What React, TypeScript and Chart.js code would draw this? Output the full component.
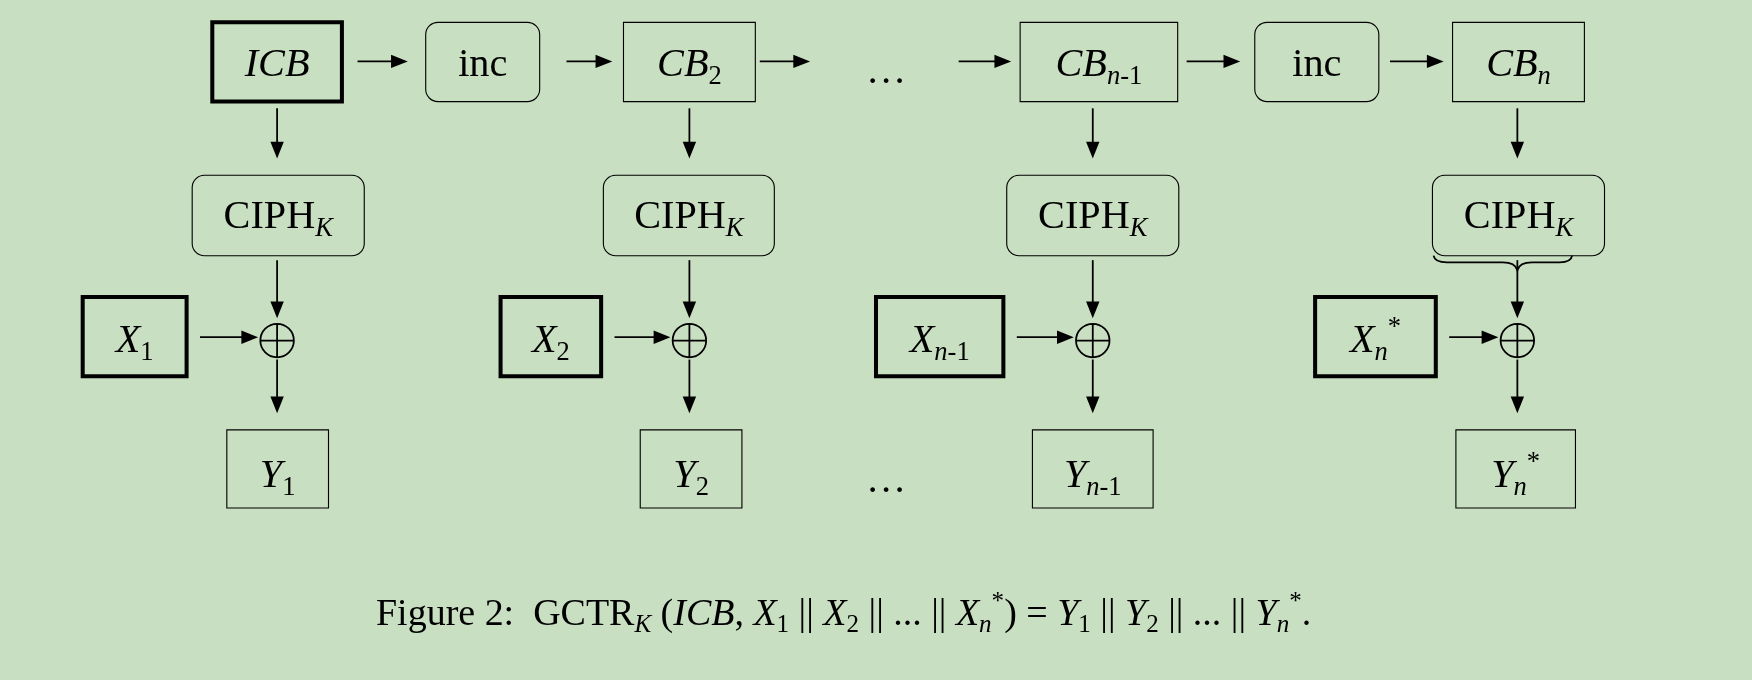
import { useEffect, useRef } from 'react';
import { Chart } from 'chart.js/auto';

type Seg = [string, string]; // text, flags: i=italic b=sub p=sup

// labels
const topLabels: Seg[][] = [
  [['ICB', 'i']],
  [['inc', '']],
  [['CB', 'i'], ['2', 'b']],
  [['CB', 'i'], ['n', 'ib'], ['-1', 'b']],
  [['inc', '']],
  [['CB', 'i'], ['n', 'ib']],
];
const cipherLabel: Seg[] = [['CIPH', ''], ['K', 'ib']];
const xLabels: Seg[][] = [
  [['X', 'i'], ['1', 'b']],
  [['X', 'i'], ['2', 'b']],
  [['X', 'i'], ['n', 'ib'], ['-1', 'b']],
  [['X', 'i'], ['n', 'ib'], ['*', 'p']],
];
const yLabels: Seg[][] = [
  [['Y', 'i'], ['1', 'b']],
  [['Y', 'i'], ['2', 'b']],
  [['Y', 'i'], ['n', 'ib'], ['-1', 'b']],
  [['Y', 'i'], ['n', 'ib'], ['*', 'p']],
];
const caption: Seg[] = [
  ['Figure 2:  GCTR', ''], ['K', 'ib'], [' (', ''], ['ICB', 'i'], [', ', ''],
  ['X', 'i'], ['1', 'b'], [' || ', ''], ['X', 'i'], ['2', 'b'], [' || ... || ', ''],
  ['X', 'i'], ['n', 'ib'], ['*', 'p'], [') = ', ''], ['Y', 'i'], ['1', 'b'], [' || ', ''],
  ['Y', 'i'], ['2', 'b'], [' || ... || ', ''], ['Y', 'i'], ['n', 'ib'], ['*', 'p'], ['.', ''],
];

// layout (diagram units, 1568 x 609)
const W = 1568, H = 609;
const topBoxes = [[190, 306, 'thick'], [381, 483, 'round'], [558, 676, 'thin'], [913, 1054, 'thin'], [1123, 1234, 'round'], [1300, 1418, 'thin']] as const;
const topArrows = [[320, 365], [507, 548], [680, 725], [858, 905], [1062, 1110], [1244, 1292]];
const cols = [248, 617, 978, 1358];
const cipherX = [[172, 326], [540, 693], [901, 1055], [1282, 1436]];
const xBoxes = [[74, 167], [448, 538], [784, 898], [1177, 1285]];
const yBoxes = [[203, 294], [573, 664], [924, 1032], [1303, 1410]];
const FONT = '"Liberation Serif", "Times New Roman", serif';

const diagram = {
  id: 'diagram',
  afterDraw(chart: any) {
    const ctx: CanvasRenderingContext2D = chart.ctx;
    const sx = chart.scales.x, sy = chart.scales.y;
    const px = (v: number) => sx.getPixelForValue(v);
    const py = (v: number) => sy.getPixelForValue(v);
    const k = (px(W) - px(0)) / W;
    ctx.save();
    ctx.strokeStyle = '#000'; ctx.fillStyle = '#000';
    ctx.lineJoin = 'miter';

    const rich = (segs: Seg[], cx: number, cy: number, size: number, align = 'center') => {
      const s = size * k;
      const font = (f: string) => `${f.includes('i') ? 'italic ' : ''}${(f.includes('b') || f.includes('p')) ? s * 0.66 : s}px ${FONT}`;
      let total = 0;
      for (const [t, f] of segs) { ctx.font = font(f); total += ctx.measureText(t).width; }
      let x = align === 'center' ? px(cx) - total / 2 : px(cx);
      const base = py(cy) + s * 0.34;
      ctx.textBaseline = 'alphabetic'; ctx.textAlign = 'left';
      for (const [t, f] of segs) {
        ctx.font = font(f);
        const dy = f.includes('b') ? s * 0.2 : f.includes('p') ? -s * 0.42 : 0;
        ctx.fillText(t, x, base + dy);
        x += ctx.measureText(t).width;
      }
    };
    const box = (x0: number, x1: number, y0: number, y1: number, kind: string) => {
      ctx.lineWidth = (kind === 'thick' ? 3.6 : 1) * k;
      ctx.beginPath();
      if (kind === 'round') ctx.roundRect(px(x0), py(y0), px(x1) - px(x0), py(y1) - py(y0), 11 * k);
      else ctx.rect(px(x0), py(y0), px(x1) - px(x0), py(y1) - py(y0));
      ctx.stroke();
    };
    const arrow = (x0: number, y0: number, x1: number, y1: number) => {
      const a = Math.atan2(py(y1) - py(y0), px(x1) - px(x0));
      const L = 15 * k, hw = 6 * k;
      ctx.lineWidth = 1.6 * k;
      ctx.beginPath();
      ctx.moveTo(px(x0), py(y0));
      ctx.lineTo(px(x1) - Math.cos(a) * L * 0.8, py(y1) - Math.sin(a) * L * 0.8);
      ctx.stroke();
      ctx.beginPath();
      ctx.moveTo(px(x1), py(y1));
      ctx.lineTo(px(x1) - Math.cos(a) * L - Math.sin(a) * hw, py(y1) - Math.sin(a) * L + Math.cos(a) * hw);
      ctx.lineTo(px(x1) - Math.cos(a) * L + Math.sin(a) * hw, py(y1) - Math.sin(a) * L - Math.cos(a) * hw);
      ctx.closePath(); ctx.fill();
    };

    // top row
    topBoxes.forEach(([x0, x1, kind], i) => {
      box(x0, x1, 20, 91, kind);
      rich(topLabels[i], (x0 + x1) / 2, 56, 36);
    });
    topArrows.forEach(([a, b]) => arrow(a, 55, b, 55));
    rich([['…', '']], 793, 62, 36);
    rich([['…', '']], 793, 428, 36);

    cols.forEach((c, i) => {
      arrow(c, 97, c, 142);
      box(cipherX[i][0], cipherX[i][1], 157, 229, 'round');
      rich(cipherLabel, (cipherX[i][0] + cipherX[i][1]) / 2, 192, 36);
      arrow(c, 233, c, 285);
      // xor
      ctx.lineWidth = 1.6 * k;
      const r = 15 * k;
      ctx.beginPath(); ctx.arc(px(c), py(305), r, 0, Math.PI * 2);
      ctx.moveTo(px(c) - r, py(305)); ctx.lineTo(px(c) + r, py(305));
      ctx.moveTo(px(c), py(305) - r); ctx.lineTo(px(c), py(305) + r);
      ctx.stroke();
      const [xa, xb] = xBoxes[i];
      box(xa, xb, 266, 337, 'thick');
      rich(xLabels[i], (xa + xb) / 2, 303, 36);
      arrow(xb + 12, 302, c - 17, 302);
      arrow(c, 322, c, 370);
      const [ya, yb] = yBoxes[i];
      box(ya, yb, 385, 455, 'thin');
      rich(yLabels[i], (ya + yb) / 2, 424, 36);
    });

    // brace under last cipher
    ctx.lineWidth = 1.6 * k;
    ctx.beginPath();
    ctx.moveTo(px(1283), py(229));
    ctx.quadraticCurveTo(px(1284), py(235), px(1295), py(235));
    ctx.lineTo(px(1345), py(235));
    ctx.quadraticCurveTo(px(1356), py(235), px(1358), py(242));
    ctx.quadraticCurveTo(px(1360), py(235), px(1371), py(235));
    ctx.lineTo(px(1396), py(235));
    ctx.quadraticCurveTo(px(1406), py(235), px(1407), py(229));
    ctx.stroke();

    rich(caption, 755, 548, 34);
    ctx.restore();
  },
};

export default function App() {
  const ref = useRef<HTMLCanvasElement>(null);
  useEffect(() => {
    if (!ref.current) return;
    document.body.style.margin = '0';
    const ch = new Chart(ref.current, {
      type: 'scatter',
      data: { datasets: [{ data: cols.map(c => ({ x: c, y: 305 })), pointRadius: 0 }] },
      options: {
        animation: false, responsive: true, maintainAspectRatio: false,
        layout: { padding: 0 },
        plugins: { legend: { display: false }, tooltip: { enabled: false } },
        scales: {
          x: { type: 'linear', min: 0, max: W, display: false },
          y: { type: 'linear', min: 0, max: H, reverse: true, display: false },
        },
      },
      plugins: [diagram],
    });
    return () => ch.destroy();
  }, []);
  return (
    <div style={{ position: 'fixed', inset: 0, background: '#c9dfc1' }}>
      <canvas ref={ref} />
    </div>
  );
}
